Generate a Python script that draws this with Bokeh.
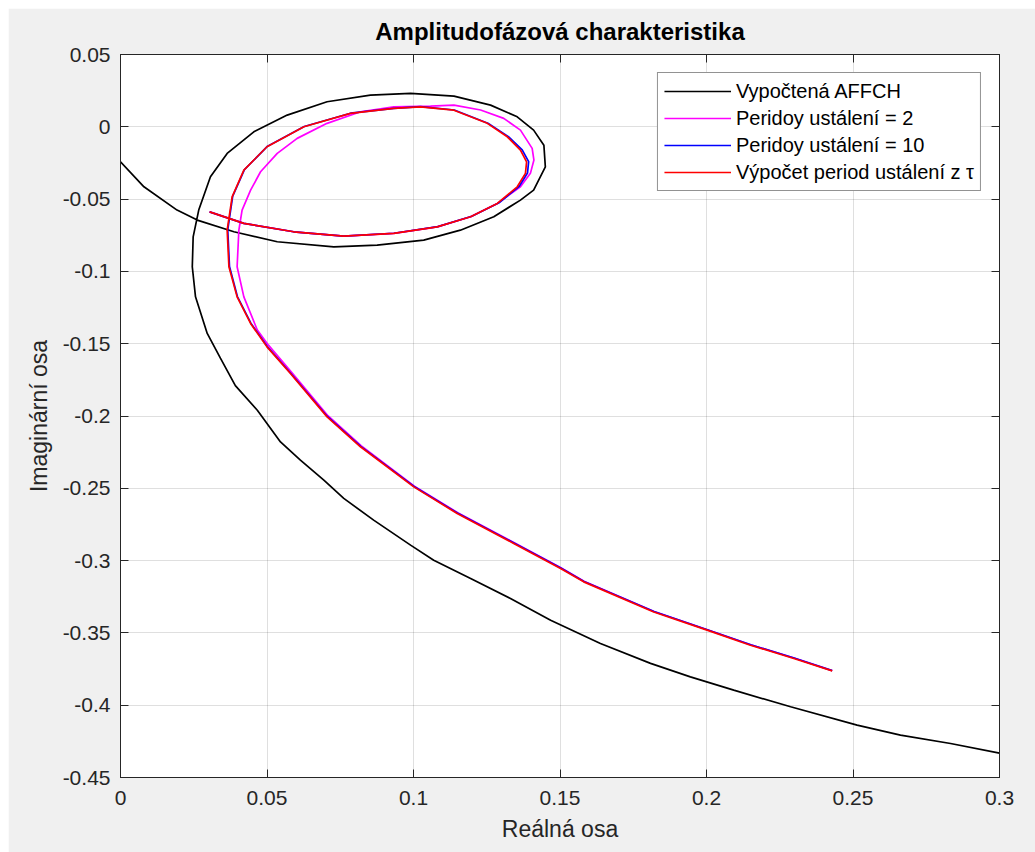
from bokeh.plotting import figure
from bokeh.models import (Range1d, FixedTicker, LinearAxis, NumeralTickFormatter, Legend,
                          LegendItem, CustomLabelingPolicy)
from bokeh.embed import file_html
from bokeh.resources import INLINE

# ---------------- data ----------------
black_x = [0.0, 0.008, 0.0193, 0.0262, 0.0387, 0.0535, 0.0728, 0.0876, 0.1035, 0.116,
           0.1274, 0.1365, 0.141, 0.145, 0.1445, 0.141, 0.1354, 0.1263, 0.1138, 0.099,
           0.0853, 0.0705, 0.0569, 0.0455, 0.0364, 0.0307, 0.0267, 0.0248, 0.0245, 0.0256,
           0.0296, 0.0341, 0.0392, 0.0467, 0.0546, 0.0614, 0.0694, 0.0762, 0.0864, 0.099,
           0.1069, 0.1195, 0.1331, 0.1468, 0.1638, 0.1809, 0.1945, 0.2093, 0.2287, 0.2514,
           0.2662, 0.2833, 0.3]
black_y = [-0.0242, -0.0415, -0.0576, -0.0645, -0.0726, -0.0795, -0.083, -0.0818, -0.0784, -0.0715,
           -0.0622, -0.0507, -0.0438, -0.0277, -0.0127, -0.0023, 0.0069, 0.015, 0.0212, 0.0231,
           0.0219, 0.0173, 0.0081, -0.0035, -0.0184, -0.0346, -0.0576, -0.0761, -0.0968, -0.1176,
           -0.1429, -0.16, -0.179, -0.196, -0.2179, -0.2305, -0.2444, -0.257, -0.272, -0.2893,
           -0.2997, -0.3124, -0.3262, -0.3412, -0.3573, -0.3711, -0.3804, -0.3896, -0.4011, -0.4138,
           -0.4207, -0.4265, -0.4332]

mag_x = [0.0304, 0.0421, 0.0591, 0.0762, 0.0933, 0.1081, 0.1195, 0.1286, 0.1365, 0.1399,
         0.1411, 0.1405, 0.1365, 0.1308, 0.1229, 0.1138, 0.1058, 0.0933, 0.0819, 0.0705,
         0.0603, 0.0535, 0.0478, 0.0444, 0.0415, 0.0404, 0.0398, 0.0421, 0.0467, 0.0505,
         0.0584, 0.0708, 0.0822, 0.1003, 0.1151, 0.1344, 0.1503, 0.1582, 0.1821, 0.2003,
         0.2151, 0.2299, 0.2429]
mag_y = [-0.0588, -0.0668, -0.0726, -0.0756, -0.0737, -0.0692, -0.0622, -0.053, -0.0415, -0.0322,
         -0.023, -0.0149, -0.0023, 0.0058, 0.0116, 0.015, 0.0143, 0.0138, 0.0104, 0.0024,
         -0.008, -0.0184, -0.0311, -0.0438, -0.0576, -0.0714, -0.0968, -0.1176, -0.1406, -0.151,
         -0.1697, -0.1998, -0.2207, -0.2485, -0.2669, -0.2877, -0.305, -0.3143, -0.3352, -0.3478,
         -0.3582, -0.3674, -0.376]

blue_x = [0.0304, 0.0421, 0.0591, 0.0762, 0.0933, 0.1083, 0.1199, 0.1292, 0.1361, 0.1389,
          0.1393, 0.1371, 0.1324, 0.1254, 0.1139, 0.1024, 0.0933, 0.0785, 0.0627, 0.0502,
          0.0423, 0.0383, 0.0366, 0.0372, 0.0399, 0.0445, 0.0501, 0.0581, 0.0706, 0.082,
          0.1002, 0.115, 0.1343, 0.1503, 0.1582, 0.1821, 0.2003, 0.2151, 0.2299, 0.2429]
blue_y = [-0.0588, -0.0668, -0.0726, -0.0756, -0.0736, -0.0690, -0.0619, -0.0526, -0.0411, -0.0320,
          -0.0241, -0.0160, -0.0068, 0.0025, 0.0116, 0.0139, 0.0128, 0.0094, 0.0002, -0.0134,
          -0.0296, -0.048, -0.0712, -0.0966, -0.1174, -0.1358, -0.152, -0.1704, -0.2003, -0.221,
          -0.2487, -0.2671, -0.2878, -0.3051, -0.3144, -0.3352, -0.3478, -0.3582, -0.3674, -0.3761]

red_x = [0.0304, 0.0421, 0.0591, 0.0762, 0.0933, 0.1081, 0.1195, 0.1286, 0.1354, 0.1382,
         0.1386, 0.1365, 0.132, 0.1252, 0.1138, 0.1024, 0.0933, 0.0785, 0.0626, 0.05,
         0.0421, 0.0381, 0.0364, 0.037, 0.0398, 0.0444, 0.05, 0.058, 0.0705, 0.0819,
         0.1001, 0.1149, 0.1342, 0.1502, 0.1581, 0.182, 0.2002, 0.215, 0.2298, 0.2429]
red_y = [-0.0588, -0.0668, -0.0726, -0.0756, -0.0737, -0.0692, -0.0622, -0.053, -0.0415, -0.0322,
         -0.0242, -0.0161, -0.0069, 0.0024, 0.0115, 0.0138, 0.0127, 0.0093, 0.0, -0.0138,
         -0.03, -0.0484, -0.0714, -0.0968, -0.1176, -0.136, -0.1522, -0.1706, -0.2006, -0.2213,
         -0.249, -0.2674, -0.2881, -0.3054, -0.3147, -0.3355, -0.3481, -0.3585, -0.3677, -0.3763]

labels = ["Vypočtená AFFCH", "Peridoy ustálení = 2", "Peridoy ustálení = 10", "Výpočet period ustálení z τ"]
x_ticks = [0.0, 0.05, 0.1, 0.15, 0.2, 0.25, 0.3]
y_ticks = [-0.45, -0.4, -0.35, -0.3, -0.25, -0.2, -0.15, -0.1, -0.05, 0.0, 0.05]

title_text = "Amplitudofázová charakteristika"
x_label = "Reálná osa"
y_label = "Imaginární osa"

# ---------------- figure ----------------
FONT = "Liberation Sans"
AX = "#262626"

p = figure(width=1027, height=844, output_backend="svg", toolbar_location=None,
           x_range=Range1d(0, 0.3), y_range=Range1d(-0.45, 0.05),
           x_axis_label=x_label, y_axis_label=y_label,
           min_border_left=112, min_border_right=36, min_border_top=46, min_border_bottom=75)
p.margin = (8, 0, 0, 8)
p.border_fill_color = "#f0f0f0"
p.background_fill_color = "white"
p.outline_line_color = AX
p.outline_line_width = 1

p.title.text = title_text
p.title.align = "center"
p.title.text_font = FONT
p.title.text_font_size = "24px"
p.title.text_font_style = "bold"
p.title.text_color = "black"
p.title.standoff = 11

xt = FixedTicker(ticks=x_ticks)
yt = FixedTicker(ticks=y_ticks)
fmt = NumeralTickFormatter(format="0.[00]")


def style_axis(ax):
    ax.axis_line_color = AX
    ax.major_tick_line_color = AX
    ax.major_tick_in = 8
    ax.major_tick_out = 0
    ax.minor_tick_line_color = None
    ax.major_label_text_font = FONT
    ax.major_label_text_font_size = "21px"
    ax.major_label_text_color = AX
    ax.axis_label_text_font = FONT
    ax.axis_label_text_font_size = "23px"
    ax.axis_label_text_font_style = "normal"
    ax.axis_label_text_color = AX


p.xaxis.ticker = xt
p.yaxis.ticker = yt
p.xaxis.formatter = fmt
p.yaxis.formatter = fmt
for ax in p.xaxis + p.yaxis:
    style_axis(ax)
p.xaxis.major_label_standoff = 13
p.yaxis.major_label_standoff = 10
p.xaxis.axis_label_standoff = 8
p.yaxis.axis_label_standoff = 8

# box ticks on top and right (no labels)
hide_all = CustomLabelingPolicy(code="for (const i of indices) { indices.unset(i) }\nreturn indices")
top_ax = LinearAxis(ticker=xt, formatter=fmt, major_label_policy=hide_all)
right_ax = LinearAxis(ticker=yt, formatter=fmt,
                      major_label_policy=CustomLabelingPolicy(code="for (const i of indices) { indices.unset(i) }\nreturn indices"))
style_axis(top_ax)
style_axis(right_ax)
top_ax.major_label_text_font_size = "1px"
right_ax.major_label_text_font_size = "1px"
top_ax.major_label_standoff = 0
right_ax.major_label_standoff = 0
p.add_layout(top_ax, "above")
p.add_layout(right_ax, "right")

p.xgrid.ticker = xt
p.ygrid.ticker = yt
p.grid.grid_line_color = AX
p.grid.grid_line_alpha = 0.15
p.grid.grid_line_width = 1

LW = 1.7
r_black = p.line(black_x, black_y, line_color="black", line_width=LW)
r_mag = p.line(mag_x, mag_y, line_color="#ff00ff", line_width=LW)
r_blue = p.line(blue_x, blue_y, line_color="#0000ff", line_width=LW)
r_red = p.line(red_x, red_y, line_color="#ff0000", line_width=LW)

legend = Legend(items=[LegendItem(label=labels[0], renderers=[r_black]),
                       LegendItem(label=labels[1], renderers=[r_mag]),
                       LegendItem(label=labels[2], renderers=[r_blue]),
                       LegendItem(label=labels[3], renderers=[r_red])],
                location="top_right")
legend.margin = 18
legend.padding = 6
legend.spacing = 3
legend.glyph_width = 67
legend.glyph_height = 24
legend.label_height = 24
legend.label_standoff = 5
legend.label_text_font = FONT
legend.label_text_font_size = "20px"
legend.label_text_color = "black"
legend.border_line_color = AX
legend.border_line_width = 1
legend.background_fill_color = "white"
legend.background_fill_alpha = 1
p.add_layout(legend, "center")

open("out.html", "w").write(file_html(p, INLINE))
